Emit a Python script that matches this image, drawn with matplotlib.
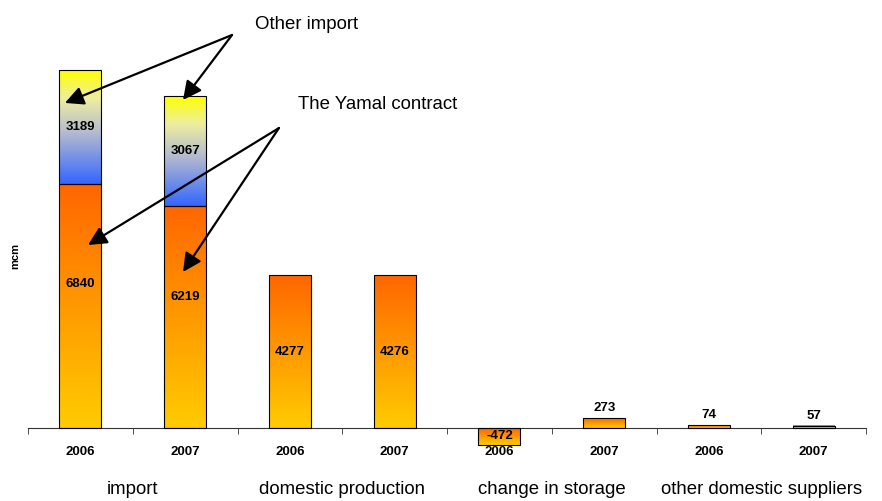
import matplotlib.pyplot as plt
import numpy as np
from matplotlib.colors import LinearSegmentedColormap

plt.rcParams['font.family'] = ['Liberation Sans', 'DejaVu Sans']

years = ['2006', '2007', '2006', '2007', '2006', '2007', '2006', '2007']
groups = ['import', 'domestic production', 'change in storage', 'other domestic suppliers']
base = [6840, 6219, 4277, 4276, -472, 273, 74, 57]
other_import = [3189, 3067, 0, 0, 0, 0, 0, 0]

orange = LinearSegmentedColormap.from_list('org', ['#FFCC00', '#FF9900', '#FF6600'])
bluey = LinearSegmentedColormap.from_list('bly', [(0, '#3366FF'), (0.45, '#B4BAD0'),
                                                 (0.75, '#EEEEA0'), (1, '#FFFF00')])
grad = np.linspace(0, 1, 256).reshape(-1, 1)

fig = plt.figure(figsize=(8.82, 5.01), dpi=100)
ax = fig.add_axes([0.0317, 0.103, 0.9503, 0.8266])

w = 0.4
fs = 9.5
x = np.arange(len(base))
for i in x:
    b = base[i]
    lo, hi = min(0, b), max(0, b)
    ax.imshow(grad, extent=[i - w / 2, i + w / 2, lo, hi], aspect='auto', origin='lower',
              cmap=orange, zorder=2, interpolation='bilinear')
    ax.bar(i, b, w, fill=False, edgecolor='black', lw=0.8, zorder=3)
    if other_import[i]:
        ax.imshow(grad, extent=[i - w / 2, i + w / 2, b, b + other_import[i]], aspect='auto',
                  origin='lower', cmap=bluey, zorder=2, interpolation='bilinear')
        ax.bar(i, other_import[i], w, bottom=b, fill=False, edgecolor='black', lw=0.8, zorder=3)
        ax.text(i, b + other_import[i] / 2, str(other_import[i]), ha='center', va='center',
                fontsize=fs, fontweight='bold', zorder=4)
        ax.text(i, b * 0.59, str(b), ha='center', va='center', fontsize=fs, fontweight='bold', zorder=4)
    elif b > 1000 or b < 0:
        ax.text(i, b / 2, str(b), ha='center', va='center', fontsize=fs, fontweight='bold', zorder=4)
    else:
        ax.text(i, b + 120, str(b), ha='center', va='bottom', fontsize=fs, fontweight='bold', zorder=4)

ax.set_xlim(-0.5, len(base) - 0.5)
ax.set_ylim(-600, 11000)

for s in ['left', 'right', 'top']:
    ax.spines[s].set_visible(False)
ax.spines['bottom'].set_position(('data', 0))
ax.spines['bottom'].set_color('#333333')
ax.set_yticks([])
ax.set_xticks(x)
ax.set_xticklabels(years, fontsize=fs, fontweight='bold')
ax.tick_params(axis='x', which='major', length=0, pad=13)
ax.set_xticks(np.arange(-0.5, len(base), 1), minor=True)
ax.tick_params(axis='x', which='minor', length=4, direction='out', color='#333333')

for k, g in enumerate(groups):
    ax.text(2 * k + 0.5, -0.098, g, transform=ax.get_xaxis_transform(), ha='center', va='center',
            fontsize=13.4)

fig.text(0.017, 0.49, 'mcm', rotation=90, ha='center', va='center', fontsize=8, fontweight='bold')

arrow = dict(arrowstyle='-|>', mutation_scale=28, lw=1.6, color='black', shrinkA=0, shrinkB=0)
for tip in [(-0.147, 9104), (0.98, 9188)]:
    ax.annotate('', xy=tip, xytext=(1.448, 11008), arrowprops=arrow, annotation_clip=False, zorder=5)
ax.text(1.667, 11289, 'Other import', fontsize=13.4, va='center', ha='left', clip_on=False)
for tip in [(0.073, 5126), (0.98, 4370)]:
    ax.annotate('', xy=tip, xytext=(1.896, 8403), arrowprops=arrow, annotation_clip=False, zorder=5)
ax.text(2.078, 9048, 'The Yamal contract', fontsize=13.4, va='center', ha='left')

fig.savefig('out.png', dpi=100)
